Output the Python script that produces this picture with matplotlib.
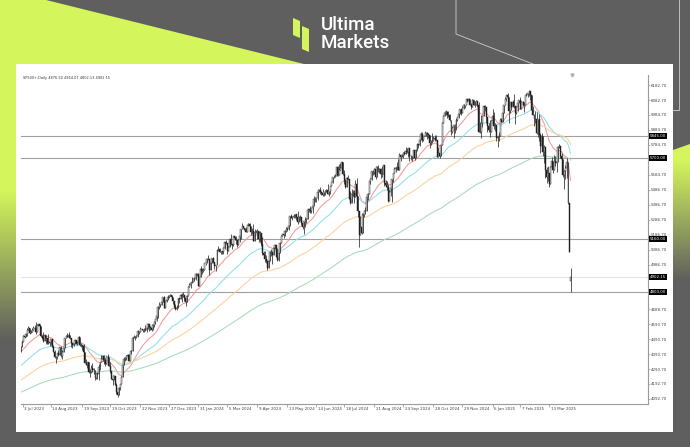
import numpy as np
import pandas as pd
import matplotlib
matplotlib.use("Agg")
import matplotlib.pyplot as plt
from matplotlib.patches import Polygon, Rectangle
from matplotlib import transforms

# ---------------------------------------------------------------- data
# SP500+ daily closes, Jul 2023 - Apr 2025 (one line per week)
closes = [
    # 2023
    4455.6, 4446.8, 4411.6, 4398.9,
    4409.5, 4439.3, 4472.2, 4510.0, 4505.4,
    4522.8, 4554.6, 4565.7, 4534.9, 4536.3,
    4554.6, 4567.5, 4566.8, 4537.4, 4582.2,
    4588.9, 4576.7, 4513.4, 4501.9, 4478.0,
    4518.4, 4499.4, 4467.7, 4468.8, 4464.1,
    4489.7, 4437.9, 4404.3, 4370.4, 4369.7,
    4399.8, 4387.6, 4436.0, 4376.3, 4405.7,
    4433.3, 4497.6, 4514.9, 4507.7, 4515.8,
    4496.8, 4465.5, 4451.1, 4457.5,
    4487.5, 4461.9, 4467.4, 4505.1, 4450.3,
    4453.5, 4443.9, 4402.2, 4330.0, 4320.1,
    4337.4, 4273.5, 4274.5, 4299.7, 4288.1,
    4288.4, 4229.5, 4263.8, 4258.2, 4308.5,
    4335.7, 4358.2, 4376.9, 4349.6, 4327.8,
    4373.6, 4373.2, 4314.6, 4278.0, 4224.2,
    4217.0, 4247.7, 4186.8, 4137.2, 4117.4,
    4166.8, 4193.8, 4237.9, 4317.8, 4358.3,
    4365.9, 4378.4, 4382.8, 4347.4, 4415.2,
    4411.6, 4495.7, 4502.9, 4508.2, 4514.0,
    4547.4, 4538.2, 4556.6, 4559.3,
    4550.4, 4554.9, 4550.6, 4567.8, 4594.6,
    4569.8, 4567.2, 4549.3, 4585.6, 4604.4,
    4622.4, 4643.7, 4707.1, 4719.6, 4719.2,
    4740.6, 4768.4, 4698.4, 4746.8, 4754.6,
    4774.8, 4781.6, 4783.4, 4769.8,
    # 2024
    4742.8, 4704.8, 4688.7, 4697.2,
    4763.5, 4756.5, 4783.5, 4780.2, 4783.8,
    4766.0, 4739.2, 4780.9, 4839.8,
    4850.4, 4864.6, 4868.6, 4894.2, 4890.9,
    4927.9, 4924.9, 4845.7, 4906.2, 4958.6,
    4942.8, 4954.2, 4995.1, 4997.9, 5026.6,
    5021.8, 4953.2, 5000.6, 5029.7, 5005.6,
    4975.5, 4981.8, 5087.0, 5088.8,
    5069.5, 5078.2, 5069.8, 5096.3, 5137.1,
    5130.9, 5078.7, 5104.8, 5157.4, 5123.7,
    5117.9, 5175.3, 5165.3, 5150.5, 5117.1,
    5149.4, 5178.5, 5224.6, 5241.5, 5234.2,
    5218.2, 5203.6, 5248.5, 5254.4,
    5243.8, 5205.8, 5211.5, 5147.2, 5204.3,
    5202.4, 5209.9, 5160.6, 5199.1, 5123.4,
    5061.8, 5051.4, 5022.2, 5011.1, 4967.2,
    5010.6, 5070.6, 5071.6, 5048.4, 5100.0,
    5116.2, 5035.7, 5018.4, 5064.2, 5127.8,
    5180.7, 5187.7, 5187.2, 5214.1, 5222.7,
    5221.4, 5246.7, 5308.2, 5297.1, 5303.3,
    5308.1, 5321.4, 5307.0, 5267.8, 5304.7,
    5306.0, 5266.9, 5235.5, 5277.5,
    5283.4, 5291.3, 5354.0, 5352.9, 5346.9,
    5360.8, 5375.3, 5421.0, 5433.7, 5431.6,
    5473.2, 5487.0, 5473.2, 5464.6,
    5447.9, 5469.3, 5477.9, 5482.9, 5460.5,
    5475.1, 5509.0, 5537.0, 5567.2,
    5572.9, 5576.9, 5633.9, 5584.5, 5615.4,
    5631.2, 5667.2, 5588.3, 5544.6, 5505.0,
    5564.4, 5555.7, 5427.1, 5399.2, 5459.1,
    5463.5, 5436.4, 5522.3, 5446.7, 5346.6,
    5186.3, 5240.0, 5199.5, 5319.3, 5344.2,
    5344.4, 5434.4, 5455.2, 5543.2, 5554.3,
    5608.3, 5597.1, 5620.9, 5570.6, 5634.6,
    5616.8, 5625.8, 5592.2, 5591.9, 5648.4,
    5528.9, 5520.1, 5503.4, 5408.4,
    5471.1, 5495.5, 5554.1, 5595.8, 5626.0,
    5633.1, 5634.6, 5618.3, 5713.6, 5702.6,
    5718.6, 5732.9, 5722.3, 5745.4, 5738.2,
    5762.5, 5708.8, 5709.5, 5699.9, 5751.1,
    5695.9, 5751.1, 5792.0, 5780.1, 5815.0,
    5859.9, 5815.3, 5842.5, 5841.5, 5864.7,
    5853.9, 5851.2, 5797.4, 5809.9, 5808.1,
    5823.5, 5832.9, 5813.7, 5705.5, 5728.8,
    5712.7, 5782.8, 5929.0, 5973.1, 5995.5,
    6001.4, 5983.9, 5985.4, 5949.2, 5870.6,
    5893.6, 5916.9, 5917.1, 5948.7, 5969.3,
    5987.4, 6021.6, 5998.7, 6032.4,
    6047.2, 6049.9, 6086.5, 6075.1, 6090.3,
    6052.9, 6034.9, 6084.2, 6051.3, 6051.1,
    6074.1, 6050.6, 5872.2, 5867.1, 5930.8,
    5974.1, 6040.0, 6037.6, 5970.8,
    5906.9, 5881.6,
    # 2025
    5868.6, 5942.5,
    5975.4, 5909.0, 5918.3, 5827.0,
    5836.2, 5842.9, 5949.9, 5937.3, 5996.7,
    6049.2, 6086.4, 6118.7, 6101.2,
    6012.3, 6067.7, 6039.3, 6071.2, 6040.5,
    5994.6, 6037.9, 6061.5, 6083.6, 6025.9,
    6066.4, 6068.5, 6051.9, 6115.1, 6114.6,
    6129.6, 6144.2, 6117.5, 6013.1,
    5983.3, 5955.3, 5956.1, 5861.6, 5954.5,
    5849.7, 5778.2, 5842.6, 5738.5, 5770.2,
    5614.6, 5572.1, 5599.3, 5521.5, 5638.9,
    5675.1, 5614.7, 5675.3, 5662.9, 5667.6,
    5767.6, 5776.7, 5712.2, 5693.3, 5580.9,
    5611.9, 5633.1, 5671.0, 5396.5, 5074.1,
    4902.15,
]

highs = [
    # 2023
    4456, 4454, 4422, 4440,
    4412, 4443, 4488, 4517, 4528,
    4532, 4562, 4578, 4565, 4555,
    4563, 4580, 4582, 4607, 4590,
    4595, 4585, 4557, 4519, 4540,
    4519, 4509, 4502, 4527, 4476,
    4490, 4476, 4450, 4421, 4382,
    4401, 4418, 4437, 4446, 4418,
    4434, 4501, 4521, 4532, 4541,
    4514, 4491, 4458, 4473,
    4490, 4481, 4479, 4511, 4497,
    4467, 4453, 4461, 4375, 4357,
    4338, 4313, 4292, 4317, 4333,
    4300, 4281, 4267, 4267, 4324,
    4337, 4385, 4378, 4385, 4366,
    4378, 4394, 4367, 4340, 4276,
    4255, 4255, 4231, 4196, 4156,
    4171, 4194, 4245, 4319, 4374,
    4372, 4383, 4391, 4393, 4415,
    4421, 4504, 4521, 4511, 4520,
    4553, 4542, 4569, 4560,
    4555, 4562, 4587, 4569, 4599,
    4575, 4578, 4591, 4590, 4609,
    4623, 4645, 4709, 4739, 4725,
    4749, 4769, 4778, 4748, 4772,
    4784, 4785, 4793, 4788,
    # 2024
    4754, 4729, 4726, 4721,
    4764, 4765, 4790, 4798, 4803,
    4782, 4744, 4783, 4842,
    4868, 4866, 4903, 4898, 4907,
    4929, 4932, 4931, 4907, 4975,
    4963, 4964, 5000, 5000, 5030,
    5048, 4977, 5002, 5032, 5039,
    4993, 4983, 5094, 5111,
    5097, 5080, 5077, 5104, 5140,
    5149, 5127, 5112, 5160, 5189,
    5125, 5180, 5179, 5180, 5136,
    5161, 5179, 5226, 5261, 5246,
    5229, 5236, 5249, 5264,
    5263, 5209, 5228, 5256, 5222,
    5219, 5224, 5178, 5211, 5175,
    5168, 5077, 5077, 5049, 5020,
    5039, 5076, 5089, 5057, 5114,
    5124, 5110, 5096, 5073, 5140,
    5183, 5192, 5191, 5215, 5240,
    5238, 5250, 5311, 5325, 5304,
    5325, 5324, 5323, 5342, 5311,
    5315, 5282, 5270, 5280,
    5302, 5297, 5354, 5362, 5376,
    5365, 5376, 5441, 5435, 5432,
    5488, 5490, 5505, 5479,
    5490, 5472, 5483, 5491, 5524,
    5479, 5510, 5539, 5570,
    5583, 5590, 5635, 5642, 5655,
    5666, 5669, 5622, 5614, 5557,
    5570, 5586, 5508, 5480, 5488,
    5487, 5487, 5552, 5566, 5383,
    5250, 5313, 5330, 5328, 5351,
    5371, 5436, 5464, 5546, 5564,
    5609, 5620, 5633, 5643, 5641,
    5651, 5629, 5629, 5646, 5651,
    5620, 5552, 5546, 5523,
    5484, 5497, 5560, 5600, 5636,
    5637, 5670, 5690, 5733, 5716,
    5722, 5735, 5742, 5767, 5764,
    5765, 5757, 5720, 5706, 5753,
    5739, 5757, 5796, 5792, 5823,
    5871, 5870, 5843, 5878, 5872,
    5867, 5863, 5834, 5817, 5862,
    5842, 5847, 5850, 5775, 5772,
    5741, 5783, 5936, 5983, 6012,
    6017, 6008, 6009, 5993, 5915,
    5909, 5917, 5921, 5964, 5973,
    6020, 6025, 6021, 6044,
    6053, 6052, 6088, 6085, 6099,
    6088, 6066, 6092, 6079, 6078,
    6085, 6058, 6071, 5935, 5982,
    5978, 6040, 6049, 6006,
    5940, 5929,
    # 2025
    5949, 5949,
    6021, 6000, 5927, 5890,
    5842, 5871, 5960, 5964, 6006,
    6051, 6100, 6119, 6128,
    6018, 6069, 6064, 6086, 6120,
    6022, 6042, 6062, 6084, 6101,
    6073, 6076, 6064, 6116, 6127,
    6130, 6147, 6135, 6117,
    6044, 5992, 6009, 6000, 5959,
    5987, 5865, 5860, 5812, 5783,
    5705, 5636, 5642, 5597, 5645,
    5703, 5670, 5715, 5711, 5670,
    5775, 5787, 5780, 5732, 5685,
    5615, 5650, 5695, 5500, 5292,
    4964.07,
]

lows = [
    # 2023
    4442, 4436, 4385, 4397,
    4389, 4408, 4463, 4489, 4497,
    4504, 4514, 4557, 4527, 4531,
    4541, 4556, 4547, 4528, 4552,
    4577, 4567, 4505, 4490, 4474,
    4491, 4462, 4461, 4457, 4443,
    4453, 4436, 4403, 4367, 4335,
    4360, 4382, 4394, 4375, 4357,
    4411, 4431, 4497, 4507, 4501,
    4492, 4442, 4430, 4448,
    4468, 4457, 4453, 4478, 4447,
    4442, 4416, 4401, 4329, 4316,
    4302, 4265, 4238, 4264, 4274,
    4260, 4216, 4225, 4226, 4219,
    4284, 4339, 4346, 4325, 4311,
    4334, 4339, 4310, 4268, 4223,
    4189, 4220, 4183, 4128, 4103,
    4123, 4153, 4197, 4268, 4335,
    4347, 4354, 4364, 4343, 4348,
    4393, 4461, 4496, 4487, 4500,
    4506, 4525, 4537, 4552,
    4541, 4538, 4547, 4537, 4560,
    4545, 4551, 4547, 4566, 4574,
    4594, 4613, 4634, 4695, 4704,
    4725, 4743, 4697, 4709, 4737,
    4758, 4768, 4780, 4751,
    # 2024
    4723, 4700, 4687, 4682,
    4700, 4730, 4756, 4740, 4769,
    4742, 4715, 4747, 4786,
    4845, 4832, 4866, 4870, 4881,
    4887, 4914, 4845, 4853, 4916,
    4927, 4935, 4969, 4987, 4999,
    5016, 4920, 4970, 4999, 4999,
    4955, 4946, 5039, 5081,
    5068, 5057, 5058, 5061, 5094,
    5127, 5057, 5089, 5121, 5117,
    5092, 5114, 5151, 5125, 5104,
    5140, 5138, 5161, 5240, 5229,
    5216, 5203, 5214, 5245,
    5229, 5184, 5194, 5146, 5157,
    5197, 5160, 5138, 5138, 5108,
    5052, 5039, 5007, 5001, 4954,
    4969, 5028, 5047, 4990, 5073,
    5089, 5035, 5013, 5011, 5092,
    5142, 5177, 5165, 5180, 5207,
    5211, 5217, 5264, 5296, 5284,
    5299, 5297, 5286, 5257, 5279,
    5278, 5250, 5225, 5191,
    5235, 5263, 5309, 5336, 5331,
    5331, 5331, 5381, 5404, 5403,
    5420, 5471, 5455, 5452,
    5447, 5446, 5451, 5471, 5460,
    5446, 5455, 5509, 5531,
    5562, 5571, 5587, 5576, 5602,
    5614, 5631, 5584, 5522, 5497,
    5524, 5550, 5425, 5390, 5430,
    5444, 5394, 5499, 5401, 5302,
    5105, 5194, 5194, 5257, 5307,
    5325, 5376, 5418, 5501, 5524,
    5550, 5584, 5591, 5560, 5587,
    5603, 5595, 5561, 5568, 5604,
    5511, 5503, 5487, 5403,
    5434, 5441, 5406, 5535, 5600,
    5605, 5614, 5615, 5690, 5674,
    5702, 5698, 5715, 5722, 5727,
    5703, 5677, 5683, 5674, 5703,
    5683, 5709, 5745, 5762, 5775,
    5829, 5806, 5809, 5840, 5846,
    5824, 5833, 5762, 5784, 5799,
    5823, 5812, 5811, 5703, 5723,
    5696, 5723, 5864, 5947, 5976,
    5986, 5964, 5970, 5942, 5853,
    5865, 5831, 5860, 5884, 5946,
    5963, 5992, 5984, 6005,
    6024, 6031, 6050, 6071, 6079,
    6048, 6024, 6051, 6051, 6035,
    6059, 6035, 5867, 5866, 5832,
    5902, 5983, 6007, 5932,
    5869, 5868,
    # 2025
    5835, 5888,
    5960, 5890, 5874, 5809,
    5773, 5808, 5903, 5935, 5975,
    6007, 6071, 6075, 6088,
    5932, 5995, 6019, 6034, 6030,
    5923, 5990, 6007, 6061, 6020,
    6048, 6042, 6003, 6051, 6107,
    6100, 6111, 6086, 6009,
    5983, 5909, 5933, 5858, 5837,
    5810, 5733, 5743, 5711, 5666,
    5565, 5529, 5546, 5505, 5563,
    5640, 5598, 5622, 5641, 5603,
    5720, 5765, 5699, 5670, 5573,
    5489, 5558, 5563, 5390, 5070,
    4802.13,
]

first_open = 4450.0   # open of the first session
last_open = 4876.50   # open of the current session

market_holidays = [
    "2023-07-04", "2023-09-04", "2023-11-23", "2023-12-25",
    "2024-01-01", "2024-01-15", "2024-02-19", "2024-03-29",
    "2024-05-27", "2024-06-19", "2024-07-04", "2024-09-02",
    "2024-11-28", "2024-12-25", "2025-01-01", "2025-01-09",
    "2025-01-20", "2025-02-17",
]

ema_periods = [20, 50, 100, 200]
ema_start = [4395.0, 4285.0, 4192.0, 4120.0]
ema_colors = ["#f2999a", "#8fe0ea", "#fcd09c", "#a6dbb8"]

levels = [5845.0, 5700.0, 5160.0, 4803.0]

date_labels = ["3 Jul 2023", "14 Aug 2023", "19 Sep 2023", "19 Oct 2023",
               "22 Nov 2023", "27 Dec 2023", "31 Jan 2024", "5 Mar 2024",
               "9 Apr 2024", "13 May 2024", "14 Jun 2024", "18 Jul 2024",
               "21 Aug 2024", "24 Sep 2024", "28 Oct 2024", "29 Nov 2024",
               "6 Jan 2025", "7 Feb 2025", "13 Mar 2025"]

# scale labels left visible next to the price boxes
price_ticks = [6182.70, 6082.70, 5984.70, 5884.70, 5784.70,
               5584.70, 5486.70, 5386.70, 5286.70, 5186.70, 5086.70,
               4986.70, 4688.70, 4590.70, 4490.70,
               4390.70, 4290.70, 4192.70, 4092.70]

# ---------------------------------------------------------------- frame
W, H = 690, 447
DARK = "#5f5f5f"
LIME = "#d4f65c"
SMALL = 2.9

fig = plt.figure(figsize=(W / 100, H / 100), dpi=100)
fig.patch.set_facecolor(DARK)

bg = fig.add_axes([0, 0, 1, 1])
bg.set_xlim(0, W)
bg.set_ylim(H, 0)
bg.axis("off")

bg.add_patch(Polygon([(0, 0), (46, 0), (304, 64), (0, 64)], fc=LIME, ec="none"))


def gradient(y0, y1, fade_from, fade_to, n=300):
    ys = np.linspace(y0, y1, n)
    t = np.clip((ys - fade_from) / (fade_to - fade_from), 0, 1)[:, None]
    c0 = np.array(matplotlib.colors.to_rgb(LIME))
    c1 = np.array(matplotlib.colors.to_rgb(DARK))
    img = c0 * (1 - t) + c1 * t
    return img[:, None, :]


bg.imshow(gradient(64, 440, 190, 340), extent=(0, 16, 440, 64),
          aspect="auto", interpolation="bilinear", zorder=1)
right_img = bg.imshow(gradient(140, 320, 160, 280), extent=(673, 690, 320, 140),
                      aspect="auto", interpolation="bilinear", zorder=1)
clip = Polygon([(673, 150), (690, 144), (690, 320), (673, 320)],
               transform=bg.transData, fc="none", ec="none")
right_img.set_clip_path(clip)

bg.plot([456, 456, 533], [0, 34, 64], color="#cfcfcf", lw=0.6, zorder=2)
bg.plot([679, 679, 673], [0, 110, 110], color="#cfcfcf", lw=0.6, zorder=2)

# white chart panel
bg.add_patch(Rectangle((16, 64), 657, 368, fc="white", ec="none", zorder=3))

# logo
bg.add_patch(Polygon([(293, 18), (300, 21), (300, 38), (293, 35)], fc=LIME, ec="none"))
bg.add_patch(Polygon([(302, 26), (309, 29), (309, 52), (302, 49)], fc=LIME, ec="none"))
bg.text(321, 25.5, "Ultima", color="white", fontsize=13.5, family="Roboto",
        weight="medium", ha="left", va="center")
bg.text(321, 42.5, "Markets", color="white", fontsize=13.5, family="Roboto",
        weight="medium", ha="left", va="center")

# ---------------------------------------------------------------- series
dates = pd.bdate_range("2023-07-03", "2025-04-07")
dates = dates[~dates.isin(pd.to_datetime(market_holidays))]
n = len(closes)
x = np.arange(n)

c = np.array(closes, dtype=float)
o = np.concatenate([[first_open], c[:-1]])
o[-1] = last_open
h = np.maximum.reduce([np.array(highs, dtype=float), o, c])
l = np.minimum.reduce([np.array(lows, dtype=float), o, c])

header = "SP500+,Daily {:.2f} {:.2f} {:.2f} {:.2f}".format(o[-1], highs[-1], lows[-1], c[-1])
bg.text(23, 78, header, fontsize=2.5, color="#333333", ha="left", va="center", zorder=4)

ax = fig.add_axes([21 / W, 1 - 404 / H, (648 - 21) / W, (404 - 75) / H])
ax.set_facecolor("none")
ax.set_xlim(5.2, 503.6)
ax.set_ylim(4059.4, 6249.3)

# moving averages
for per, seed, col in zip(ema_periods, ema_start, ema_colors):
    ema = pd.Series([seed] + closes).ewm(span=per, adjust=False).mean().iloc[1:].values
    ax.plot(x, ema, color=col, lw=0.75, zorder=2)

# horizontal levels and current price line
for v in levels:
    ax.axhline(v, color="#a0a0a0", lw=0.8, zorder=1)
ax.axhline(c[-1], color="#e3e3e3", lw=0.8, zorder=1)

# candles
ax.vlines(x, l, h, color="#2b2b2b", lw=0.55, zorder=3)
up = c >= o
bottom = np.minimum(o, c)
height = np.maximum(np.abs(c - o), 1.5)
ax.bar(x[up], height[up], bottom=bottom[up], width=0.75, color="white",
       edgecolor="#1f1f1f", linewidth=0.3, zorder=4)
ax.bar(x[~up], height[~up], bottom=bottom[~up], width=0.75, color="#1f1f1f",
       edgecolor="#1f1f1f", linewidth=0.3, zorder=4)

# chart shift marker
ax.plot([x[-1] + 1.2], [1.0], marker="v", ms=2.2, color="#b0b0b0",
        transform=transforms.blended_transform_factory(ax.transData, ax.transAxes),
        clip_on=False, zorder=5)

# axes styling
for side in ("left", "top"):
    ax.spines[side].set_visible(False)
for side in ("right", "bottom"):
    ax.spines[side].set_color("#9a9a9a")
    ax.spines[side].set_linewidth(0.8)

ax.yaxis.tick_right()
ax.set_yticks(price_ticks)
ax.set_yticklabels(["{:.2f}".format(v) for v in price_ticks])
ax.tick_params(axis="y", labelsize=SMALL, length=1.5, width=0.5, pad=0.8,
               colors="#9a9a9a", labelcolor="#444444")

tick_pos = []
for lbl in date_labels:
    i = dates.get_loc(pd.Timestamp(lbl))
    tick_pos.append(max(float(i), ax.get_xlim()[0] + 1.5))
ax.set_xticks(tick_pos)
ax.set_xticklabels([])
ax.tick_params(axis="x", length=2.5, width=0.5, colors="#8a8a8a")

xt = transforms.offset_copy(
    transforms.blended_transform_factory(ax.transData, ax.transAxes),
    fig=fig, x=1.5, y=-5, units="dots")
for pos, lbl in zip(tick_pos, date_labels):
    ax.text(pos, 0, lbl, transform=xt, fontsize=SMALL, color="#444444",
            ha="left", va="center", clip_on=False)

# price boxes on the right scale
bx = transforms.offset_copy(
    transforms.blended_transform_factory(ax.transAxes, ax.transData),
    fig=fig, x=2, y=0, units="dots")
for v in levels + [c[-1]]:
    ax.text(1.0, v, "{:.2f}".format(v), transform=bx, fontsize=SMALL,
            color="white", ha="left", va="center", clip_on=False, zorder=10,
            bbox=dict(boxstyle="square,pad=0.25", fc="black", ec="none"))

fig.savefig("out.png", dpi=100, facecolor=fig.get_facecolor())
